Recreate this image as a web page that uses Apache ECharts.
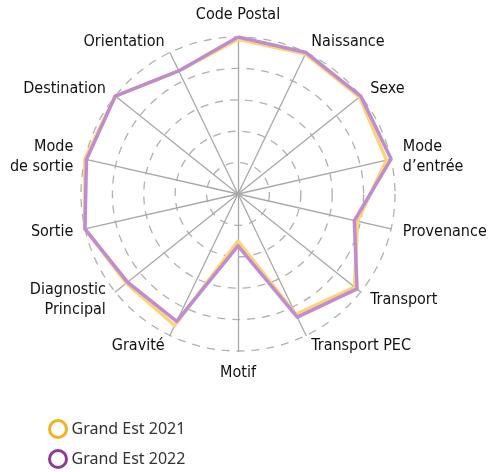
<!doctype html>
<html>
<head>
<meta charset="utf-8">
<title>radar</title>
<script src="https://cdn.jsdelivr.net/npm/echarts@6/dist/echarts.min.js"></script>
<style>
  html, body { margin: 0; padding: 0; background: #fff; }
  #chart { width: 489px; height: 472px; }
</style>
</head>
<body>
<div id="chart"></div>
<script>
// indicators, clockwise from the top
var indicators = ['Code Postal', 'Naissance', 'Sexe', 'Mode\nd\u2019entrée', 'Provenance', 'Transport',
  'Transport PEC', 'Motif', 'Gravité', 'Diagnostic\nPrincipal', 'Sortie', 'Mode\nde sortie',
  'Destination', 'Orientation'];
var ge2021 = [98.5, 99, 99, 97, 78, 95, 85, 30, 93, 91, 100, 100, 100, 87];
var ge2022 = [100, 100, 100, 100, 76, 97, 87, 33, 90, 90, 100, 99, 100, 87];
var seriesNames = ['Grand Est 2021', 'Grand Est 2022'];
var colors = ['#f7b21b', '#8e3a96'];      // legend rings
var lineColors = ['#fcd478', '#c18bd0'];  // lighter lines in the plot

// echarts draws radar counterclockwise: keep the first one, reverse the rest
function cw(arr) {
  return [arr[0]].concat(arr.slice(1).reverse());
}

function legendFor(i, top) {
  return {
    orient: 'vertical',
    left: 43,
    top: top,
    itemWidth: 17,
    itemHeight: 17,
    textStyle: { fontFamily: 'Noto Sans', fontSize: 16, color: '#333' },
    data: [{ name: seriesNames[i], icon: 'circle',
      itemStyle: { color: '#fff', borderColor: colors[i], borderWidth: 3 } }]
  };
}

var myChart = echarts.init(document.getElementById('chart'));
var option = {
  animation: false,
  legend: [legendFor(0, 414), legendFor(1, 444)],
  radar: {
    center: [238, 194],
    radius: 157,
    startAngle: 90,
    shape: 'circle',
    splitNumber: 5,
    axisNameGap: 12,
    indicator: cw(indicators).map(function (n) { return { name: n, min: 0, max: 100 }; }),
    axisName: {
      color: '#111',
      fontFamily: "'DejaVu Sans Condensed', sans-serif",
      fontSize: 16,
      lineHeight: 20
    },
    axisLine: { lineStyle: { color: '#a8a8a8', width: 1.3 } },
    splitLine: { lineStyle: { color: '#b0b0b0', width: 1.3, type: [8, 7] } },
    splitArea: { show: false }
  },
  series: [{
    type: 'radar',
    symbol: 'none',
    data: [
      { name: seriesNames[0], value: cw(ge2021), itemStyle: { color: colors[0] },
        lineStyle: { color: lineColors[0], width: 3.5 } },
      { name: seriesNames[1], value: cw(ge2022), itemStyle: { color: colors[1] },
        lineStyle: { color: lineColors[1], width: 3.5 } }
    ]
  }]
};
myChart.setOption(option);
</script>
</body>
</html>
